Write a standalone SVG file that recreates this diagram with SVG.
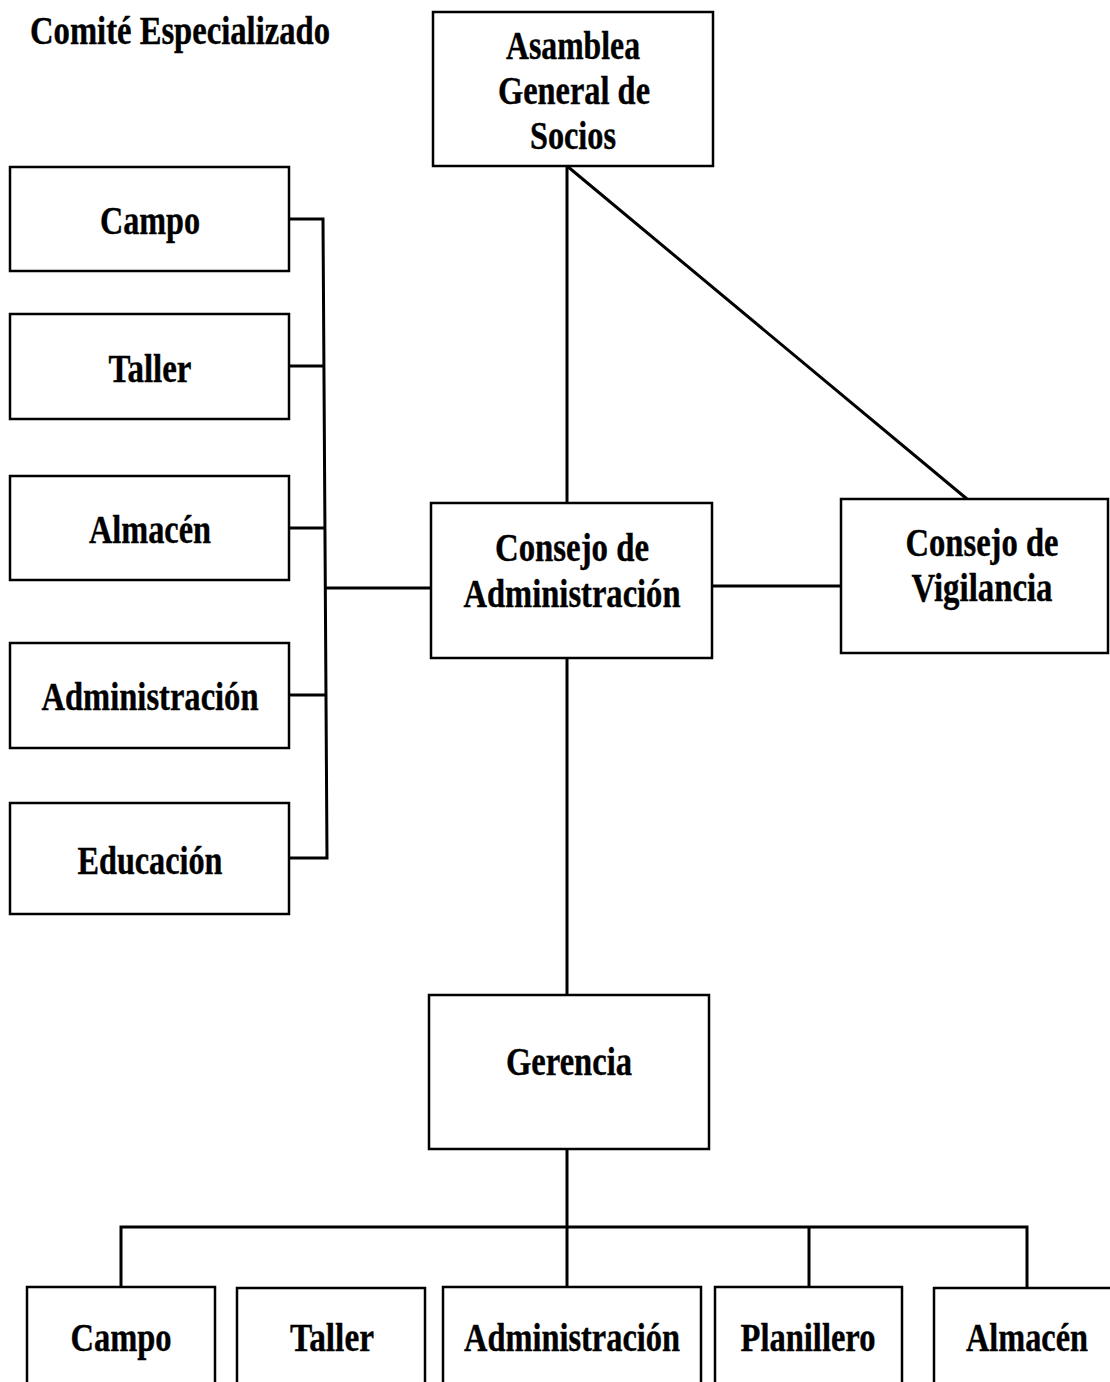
<svg xmlns="http://www.w3.org/2000/svg" width="1110" height="1382" viewBox="0 0 1110 1382">
<style>
.box{fill:#fff;stroke:#000;stroke-width:2.5}
.lbl{font-family:"Liberation Serif","Times New Roman",serif;font-weight:bold;font-size:40px;fill:#000;stroke:#000;stroke-width:0.4;text-anchor:middle}
.ln{fill:none;stroke:#000;stroke-width:3;stroke-linejoin:miter}
</style>
<rect width="1110" height="1382" fill="#fff"/>
<text class="lbl" x="180" y="44" textLength="300" lengthAdjust="spacingAndGlyphs">Comité Especializado</text>

<g id="connectors">
<line class="ln" x1="567" y1="166" x2="567" y2="503"/>
<line class="ln" x1="567" y1="166" x2="967" y2="499"/>
<line class="ln" x1="712" y1="586" x2="841" y2="586"/>
<line class="ln" x1="567" y1="658" x2="567" y2="995"/>
<path class="ln" d="M289 219 H323 L327 858 H289"/>
<line class="ln" x1="289" y1="366" x2="324" y2="366"/>
<line class="ln" x1="289" y1="528" x2="325" y2="528"/>
<line class="ln" x1="289" y1="695" x2="326" y2="695"/>
<line class="ln" x1="324" y1="588" x2="431" y2="588"/>
<line class="ln" x1="567" y1="1149" x2="567" y2="1287"/>
<path class="ln" d="M121 1287 V1227 H1027 V1287"/>
<line class="ln" x1="809" y1="1227" x2="809" y2="1287"/>
</g>

<g id="asamblea">
<rect class="box" x="433" y="12" width="280" height="154"/>
<text class="lbl" x="573" y="59" textLength="134" lengthAdjust="spacingAndGlyphs">Asamblea</text>
<text class="lbl" x="574" y="104" textLength="152" lengthAdjust="spacingAndGlyphs">General de</text>
<text class="lbl" x="573" y="149" textLength="86" lengthAdjust="spacingAndGlyphs">Socios</text>
</g>

<g id="comite-campo">
<rect class="box" x="10" y="167" width="279" height="104"/>
<text class="lbl" x="150" y="234" textLength="100" lengthAdjust="spacingAndGlyphs">Campo</text>
</g>
<g id="comite-taller">
<rect class="box" x="10" y="314" width="279" height="105"/>
<text class="lbl" x="150" y="382" textLength="83" lengthAdjust="spacingAndGlyphs">Taller</text>
</g>
<g id="comite-almacen">
<rect class="box" x="10" y="476" width="279" height="104"/>
<text class="lbl" x="150" y="543" textLength="122" lengthAdjust="spacingAndGlyphs">Almacén</text>
</g>
<g id="comite-administracion">
<rect class="box" x="10" y="643" width="279" height="105"/>
<text class="lbl" x="150" y="710" textLength="217" lengthAdjust="spacingAndGlyphs">Administración</text>
</g>
<g id="comite-educacion">
<rect class="box" x="10" y="803" width="279" height="111"/>
<text class="lbl" x="150" y="874" textLength="145" lengthAdjust="spacingAndGlyphs">Educación</text>
</g>

<g id="consejo-administracion">
<rect class="box" x="431" y="503" width="281" height="155"/>
<text class="lbl" x="572" y="561" textLength="154" lengthAdjust="spacingAndGlyphs">Consejo de</text>
<text class="lbl" x="572" y="607" textLength="217" lengthAdjust="spacingAndGlyphs">Administración</text>
</g>

<g id="consejo-vigilancia">
<rect class="box" x="841" y="499" width="267" height="154"/>
<text class="lbl" x="982" y="556" textLength="153" lengthAdjust="spacingAndGlyphs">Consejo de</text>
<text class="lbl" x="982" y="601" textLength="141" lengthAdjust="spacingAndGlyphs">Vigilancia</text>
</g>

<g id="gerencia">
<rect class="box" x="429" y="995" width="280" height="154"/>
<text class="lbl" x="569" y="1075" textLength="126" lengthAdjust="spacingAndGlyphs">Gerencia</text>
</g>

<g id="area-campo">
<rect class="box" x="27" y="1287" width="188" height="110"/>
<text class="lbl" x="121" y="1351" textLength="101" lengthAdjust="spacingAndGlyphs">Campo</text>
</g>
<g id="area-taller">
<rect class="box" x="237" y="1288" width="188" height="110"/>
<text class="lbl" x="332" y="1351" textLength="84" lengthAdjust="spacingAndGlyphs">Taller</text>
</g>
<g id="area-administracion">
<rect class="box" x="443" y="1287" width="258" height="110"/>
<text class="lbl" x="572" y="1351" textLength="216" lengthAdjust="spacingAndGlyphs">Administración</text>
</g>
<g id="area-planillero">
<rect class="box" x="715" y="1287" width="187" height="110"/>
<text class="lbl" x="808" y="1351" textLength="135" lengthAdjust="spacingAndGlyphs">Planillero</text>
</g>
<g id="area-almacen">
<rect class="box" x="934" y="1288" width="190" height="110"/>
<text class="lbl" x="1027" y="1351" textLength="122" lengthAdjust="spacingAndGlyphs">Almacén</text>
</g>
</svg>
